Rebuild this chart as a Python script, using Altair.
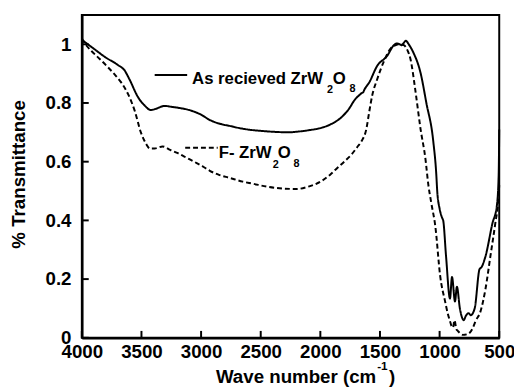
import altair as alt
import pandas as pd

# As received ZrW2O8 (solid)
wn_recv = [4000, 3950, 3900, 3800, 3700, 3640, 3600, 3529, 3470, 3422, 3380, 3307, 3250, 3183,
           3100, 3000, 2927, 2850, 2762, 2660, 2597, 2500, 2400, 2266, 2200, 2100, 1986, 1900,
           1821, 1760, 1713, 1670, 1656, 1640, 1631, 1590, 1524, 1441, 1383, 1358, 1335, 1317,
           1300, 1284, 1259, 1218, 1160, 1111, 1053, 1028, 1020, 1000, 987, 975, 970, 946, 913,
           896, 871, 855, 830, 797, 781, 756, 739, 706, 665, 648, 615, 557, 520, 505, 500]
t_recv = [1.015, 1.0, 0.985, 0.955, 0.93, 0.91, 0.88, 0.82, 0.79, 0.776, 0.78, 0.79, 0.787, 0.783,
          0.776, 0.76, 0.742, 0.73, 0.722, 0.713, 0.709, 0.705, 0.702, 0.70, 0.702, 0.707, 0.716, 0.73,
          0.752, 0.78, 0.81, 0.828, 0.833, 0.837, 0.845, 0.87, 0.926, 0.96, 0.997, 1.003, 1.0, 0.997,
          1.005, 1.012, 1.0, 0.97, 0.903, 0.80, 0.669, 0.558, 0.50, 0.44, 0.418, 0.405, 0.40, 0.278, 0.134,
          0.207, 0.124, 0.174, 0.10, 0.06, 0.074, 0.084, 0.077, 0.10, 0.234, 0.241, 0.278, 0.39, 0.45, 0.55, 0.71]

# F- ZrW2O8 (dashed)
wn_f = [4000, 3960, 3917, 3850, 3777, 3720, 3670, 3612, 3554, 3505, 3460, 3430, 3389, 3323, 3260,
        3200, 3130, 3059, 2990, 2927, 2850, 2762, 2650, 2564, 2450, 2300, 2200, 2100, 1986, 1920,
        1854, 1800, 1738, 1690, 1656, 1614, 1590, 1565, 1524, 1466, 1408, 1367, 1330, 1300, 1270,
        1243, 1201, 1160, 1119, 1094, 1070, 1036, 995, 954, 930, 913, 900, 888, 875, 860, 846, 805,
        770, 748, 720, 698, 657, 615, 574, 533, 510, 500]
t_f = [1.02, 0.995, 0.976, 0.95, 0.92, 0.895, 0.87, 0.83, 0.77, 0.70, 0.66, 0.645, 0.645, 0.652, 0.64,
       0.63, 0.615, 0.60, 0.585, 0.569, 0.555, 0.545, 0.532, 0.525, 0.515, 0.508, 0.507, 0.515, 0.535, 0.555,
       0.58, 0.60, 0.625, 0.65, 0.669, 0.712, 0.77, 0.826, 0.88, 0.943, 0.987, 0.997, 1.0, 0.997, 0.98,
       0.947, 0.836, 0.712, 0.61, 0.52, 0.46, 0.38, 0.21, 0.124, 0.08, 0.057, 0.04, 0.035, 0.06, 0.03, 0.023, 0.01,
       0.012, 0.017, 0.035, 0.057, 0.09, 0.167, 0.278, 0.39, 0.46, 0.52]

series_names = ["As recieved", "F-"]
x_ticks = [4000, 3500, 3000, 2500, 2000, 1500, 1000, 500]
y_ticks = [0, 0.2, 0.4, 0.6, 0.8, 1.0]

W, H = 424, 328
FONT = "Liberation Sans"

df = pd.concat([
    pd.DataFrame({"wn": wn_recv, "t": t_recv, "series": series_names[0]}),
    pd.DataFrame({"wn": wn_f, "t": t_f, "series": series_names[1]}),
])

xscale = alt.Scale(domain=[500, 4000], reverse=True, nice=False, zero=False)
yscale = alt.Scale(domain=[0, 1.1], nice=False)

lines = alt.Chart(df).mark_line(color="black", strokeWidth=2, interpolate="monotone").encode(
    x=alt.X("wn:Q", scale=xscale,
            axis=alt.Axis(values=x_ticks, format="d", title=None, ticks=False, labelPadding=5,
                          labelFontSize=19, labelFont=FONT, labelFontWeight="bold", labelColor="black",
                          domainColor="black", domainWidth=2.5, grid=False, labelFlush=False)),
    y=alt.Y("t:Q", scale=yscale,
            axis=alt.Axis(values=y_ticks, format=".1~f", title=None, ticks=False, labelPadding=11,
                          labelFontSize=19, labelFont=FONT, labelFontWeight="bold", labelColor="black",
                          domainColor="black", domainWidth=2.5, grid=False)),
    strokeDash=alt.StrokeDash("series:N", scale=alt.Scale(domain=series_names, range=[[1, 0], [5, 3]]),
                              legend=None),
    detail="series:N",
)

xt = alt.Chart(pd.DataFrame({"v": x_ticks})).mark_rule(color="black", strokeWidth=2).encode(
    x=alt.X("v:Q", scale=xscale), y=alt.value(H), y2=alt.value(H - 7))
yt = alt.Chart(pd.DataFrame({"v": y_ticks})).mark_rule(color="black", strokeWidth=2).encode(
    y=alt.Y("v:Q", scale=yscale), x=alt.value(0), x2=alt.value(7))

leg1 = alt.Chart().mark_rule(color="black", strokeWidth=2).encode(
    x=alt.value(74), x2=alt.value(107), y=alt.value(61))
leg2 = alt.Chart().mark_rule(color="black", strokeWidth=2, strokeDash=[5, 3]).encode(
    x=alt.value(105), x2=alt.value(138), y=alt.value(135))


def txt(s, x, y, size, align="left", angle=0, baseline="alphabetic"):
    kw = dict(text=s, font=FONT, fontWeight="bold", fontSize=size, color="black",
              align=align, baseline=baseline)
    if angle:
        kw["angle"] = angle
    return alt.Chart().mark_text(**kw).encode(x=alt.value(x), y=alt.value(y))


texts = [
    txt("As recieved ZrW", 112, 70, 17),
    txt("2", 249, 79, 11),
    txt("O", 255, 70, 17),
    txt("8", 272, 78, 11),
    txt("F- ZrW", 139, 145, 17),
    txt("2", 194, 156, 11),
    txt("O", 199, 145, 17),
    txt("8", 215, 155, 11),
    txt("Wave number (cm", 299, 374, 19, align="right"),
    txt("-1", 300, 361, 12),
    txt(")", 312, 374, 19),
    txt("% Transmittance", -64, 162, 19, align="center", angle=270, baseline="middle"),
]

chart = alt.layer(lines, xt, yt, leg1, leg2, *texts).properties(
    width=W, height=H,
    autosize=alt.AutoSizeParams(type="none"),
    padding={"left": 75, "top": 4, "right": 15, "bottom": 50},
    background="white",
).configure_view(stroke="black", strokeWidth=2)

chart.save("out.html", embed_options={"renderer": "svg", "actions": False})
